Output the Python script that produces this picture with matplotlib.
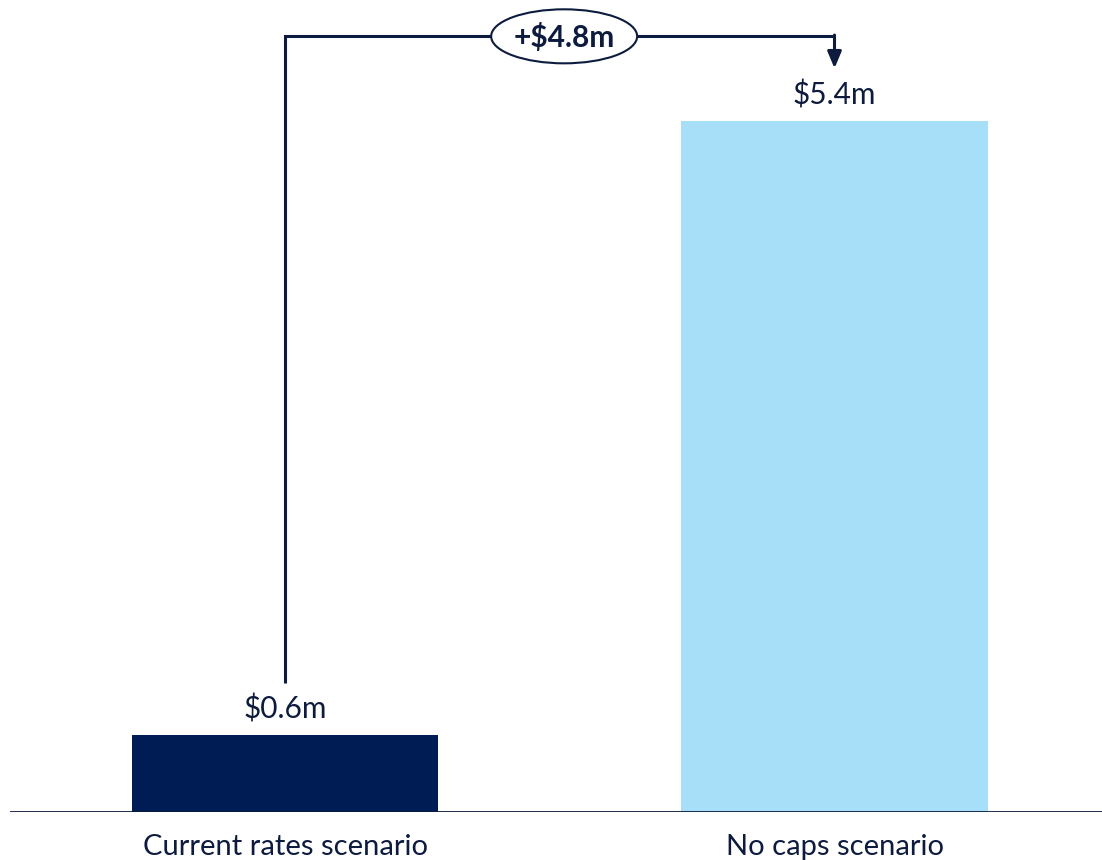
import matplotlib
matplotlib.use("Agg")
import matplotlib.pyplot as plt
from matplotlib.patches import Ellipse

categories = ["Current rates scenario", "No caps scenario"]
values = [0.6, 5.4]
value_labels = ["$0.6m", "$5.4m"]
diff_label = "+$4.8m"
colors = ["#001C54", "#A8DFF8"]
navy = "#0D1B3E"

plt.rcParams['font.family'] = ['Lato', 'DejaVu Sans']

fig = plt.figure(figsize=(11.02, 8.6), dpi=100)
ax = fig.add_axes([10/1102, 48/860, 1092/1102, 812/860])
ax.set_xlim(-0.5005, 1.4868)
ax.set_ylim(0, 812/128)

x = [0, 1]
ax.bar(x, values, width=0.557, color=colors, zorder=2)
for xi, v, lab in zip(x, values, value_labels):
    ax.text(xi, v + 0.09, lab, ha='center', va='bottom', fontsize=21.5, color=navy)

ax.axhline(0, color=navy, lw=2.0, zorder=3)

# bracket
top = 6.06
xr = 1.0
ax.plot([0, 0, xr], [1.01, top, top], color=navy, lw=2.2, solid_capstyle='butt',
        solid_joinstyle='miter', zorder=3)
ax.annotate('', xy=(xr, 5.81), xytext=(xr, top + 0.01),
            arrowprops=dict(arrowstyle='-|>,head_width=0.42,head_length=1.0', color=navy, lw=2.2,
                            shrinkA=0, shrinkB=0))
mid = 0.508
ell = Ellipse((mid, top), width=146/549.5, height=54/128, facecolor='white', edgecolor=navy,
              lw=1.5, zorder=4)
ax.add_patch(ell)
ax.text(mid, top - 0.01, diff_label, ha='center', va='center', fontsize=21.5, fontweight='bold',
        color=navy, zorder=5)

ax.set_xticks(x)
ax.set_xticklabels(categories, fontsize=21, color=navy)
ax.tick_params(axis='x', length=0, pad=16)
ax.set_yticks([])
for s in ax.spines.values():
    s.set_visible(False)

fig.savefig("out.png", dpi=100)
